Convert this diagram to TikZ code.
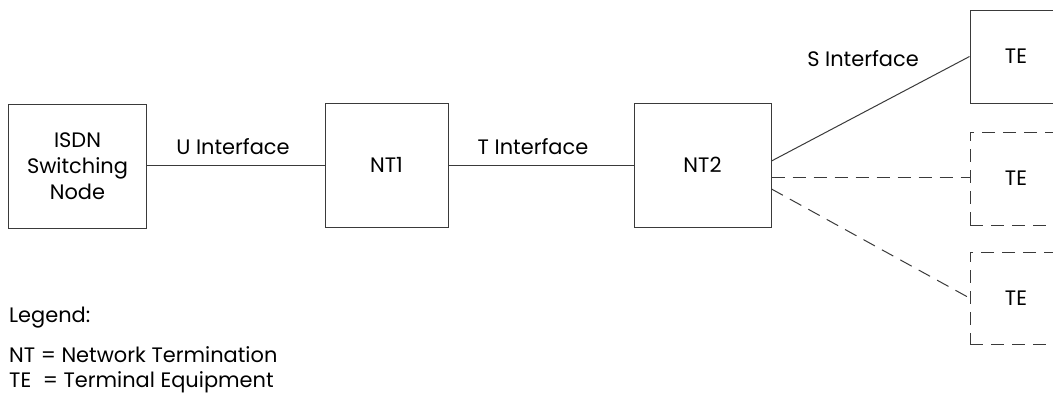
\documentclass[tikz,border=0pt]{standalone}
\usepackage{fontspec}
\setmainfont{Poppins}
\begin{document}
\begin{tikzpicture}[x=1bp,y=-1bp,
  box/.style={draw=linec, line width=1bp, minimum width=#1, inner sep=0pt, align=center, font=\fontsize{21}{26}\selectfont},
  lbl/.style={inner sep=0pt, font=\fontsize{21}{26}\selectfont},
  conn/.style={draw=linec, line width=1bp},
  dsh/.style={dash pattern=on 13bp off 8bp}]
\definecolor{linec}{HTML}{3A3A3A}
\useasboundingbox (0,0) rectangle (1053,394);
\clip (0,0) rectangle (1053,394);
\node[box=137bp, minimum height=124bp] (isdn) at (77.5,166) {ISDN\\Switching\\Node};
\node[box=123bp, minimum height=124bp] (nt1) at (386.5,165) {NT1};
\node[box=137bp, minimum height=124bp] (nt2) at (702.5,165) {NT2};
\node[box=92bp, minimum height=93bp] (te1) at (1016,56.5) {TE};
\node[box=92bp, minimum height=93bp, dsh] (te2) at (1016,178.5) {TE};
\node[box=92bp, minimum height=92bp, dsh] (te3) at (1016,298) {TE};
\draw[conn] (isdn.east |- nt1.west) -- (nt1.west);
\draw[conn] (nt1) -- (nt2);
\draw[conn] ([yshift=4bp]nt2.east) -- (te1.west);
\draw[conn, dsh] ([yshift=-12bp]nt2.east) -- ([yshift=-12bp]nt2.east -| te2.west);
\draw[conn, dsh] ([yshift=-24bp]nt2.east) -- (te3.west);
\node[lbl] (u) at (233,147) {U Interface};
\node[lbl] (t) at (533,147) {T Interface};
\node[lbl] (s) at (863,59) {S Interface};
\node[lbl, anchor=west] (leg) at (9,318) {Legend:};
\node[lbl, anchor=west] (nt) at (9,355) {NT = Network Termination};
\node[lbl, anchor=west] (te) at (9,382) {TE\hspace{6bp} = Terminal Equipment};
\end{tikzpicture}
\end{document}
